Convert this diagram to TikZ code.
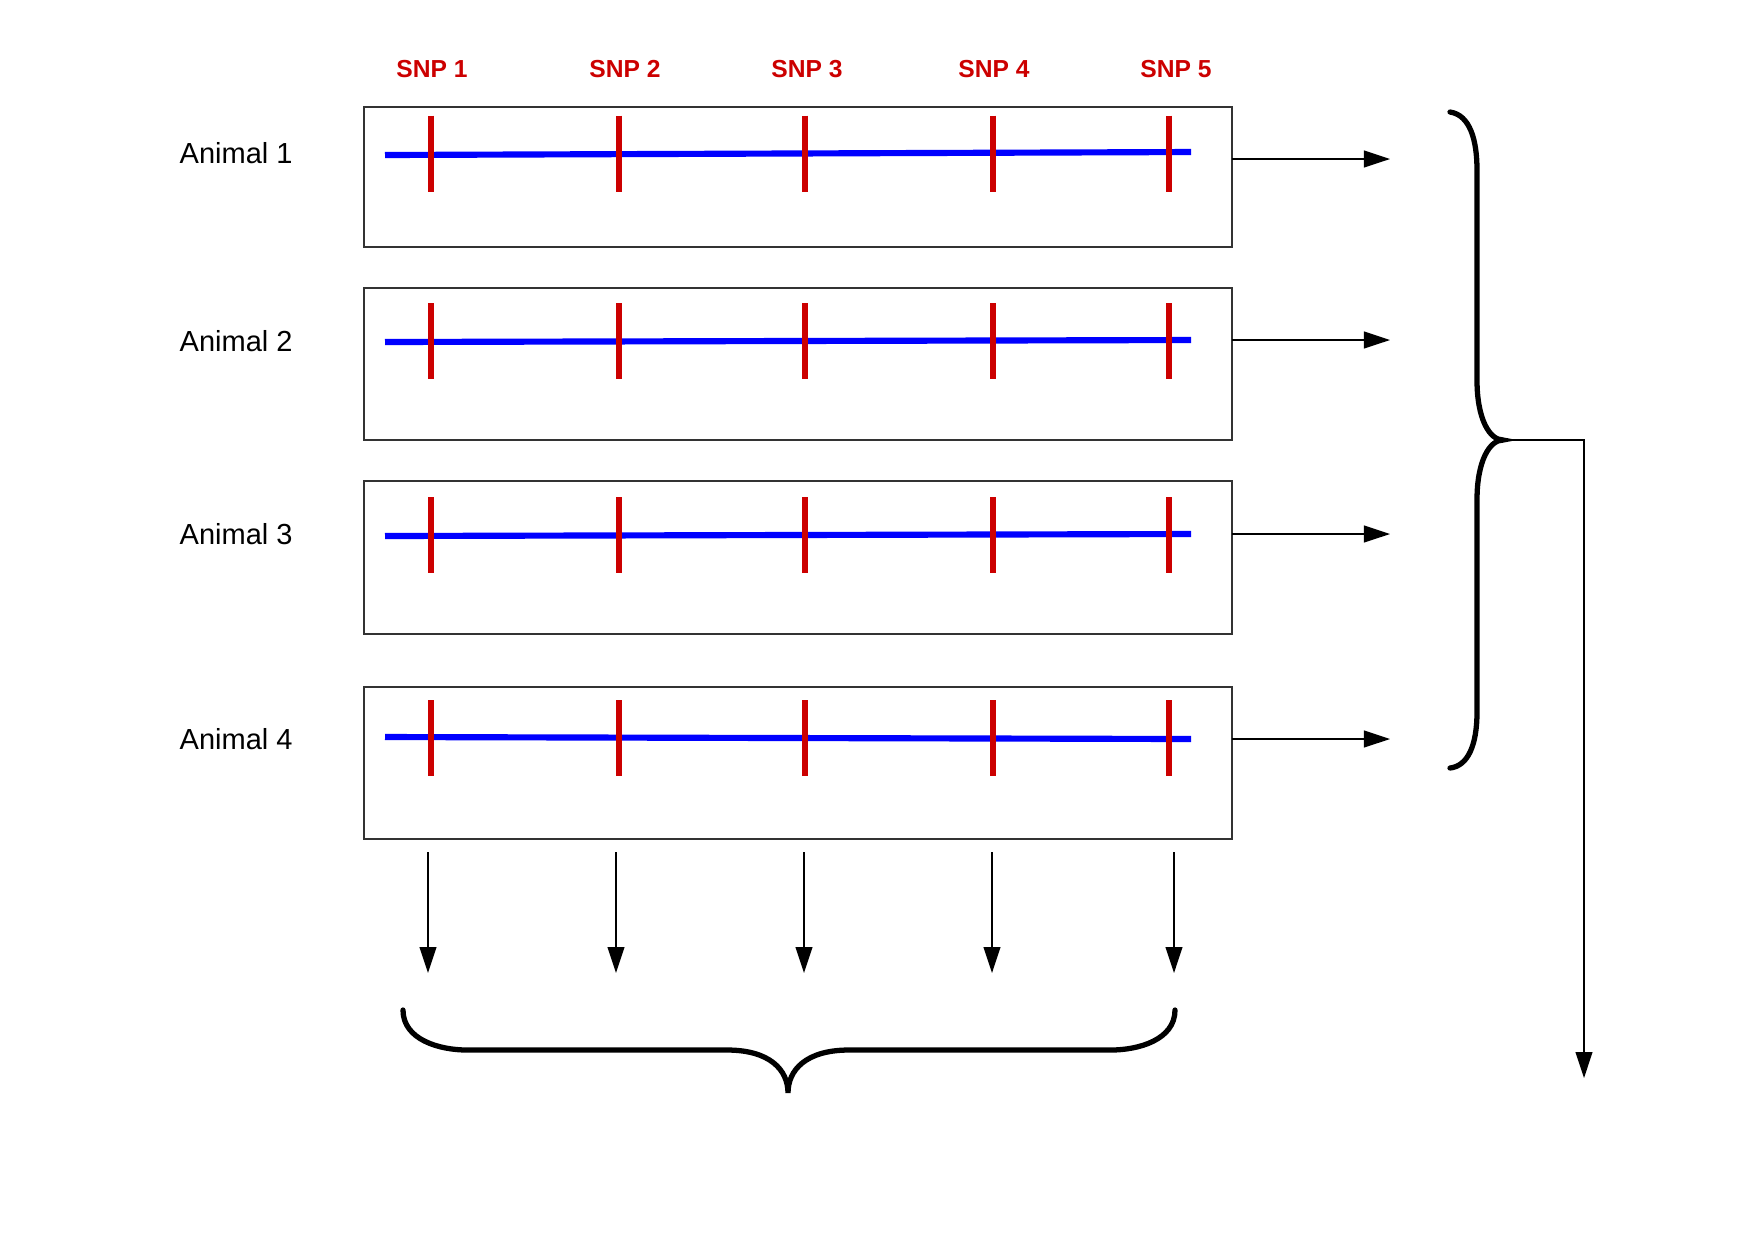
\documentclass[tikz,border=0pt]{standalone}
\usepackage{fontspec}
\setmainfont{Liberation Sans}
\usetikzlibrary{arrows.meta}
\definecolor{snpred}{RGB}{204,0,0}
\definecolor{chromblue}{RGB}{0,0,255}
\tikzset{
  genobox/.style={draw=black!80, line width=0.45pt, inner sep=0pt, outer sep=0pt, minimum width=8.68cm},
  chrom/.style={chromblue, line width=1.75pt},
  snptick/.style={snpred, line width=1.6pt},
  snplabel/.style={text=snpred, font=\fontsize{7}{8}\selectfont\bfseries, inner sep=0pt},
  animallabel/.style={font=\fontsize{8.25}{10}\selectfont, inner sep=0pt, anchor=west},
  flow/.style={black, line width=0.4pt, -{Triangle[length=7.4pt, width=4.8pt]}},
  curly/.style={black, line width=1.5pt, line cap=round}
}
\begin{document}
\begin{tikzpicture}[x=0.01cm, y=-0.01cm]
  \useasboundingbox (0,0) rectangle (1742,1232);

  % SNP headers
  \foreach \j/\x in {1/432, 2/625, 3/807, 4/994, 5/1176}
    \node[snplabel] (snp\j) at (\x,69) {SNP \j};

  % one box per animal
  \foreach \i/\top/\bot/\yl/\yr/\ay/\ty in {1/107/247/155/152/159/153, 2/288/440/342/340/340/341,
                                          3/481/634/536/534/534/534, 4/687/839/737/739/739/739} {
    \node[genobox, minimum height={(\bot-\top)*0.01cm}] (box\i) at (798,{(\top+\bot)/2}) {};
    \node[animallabel] (animal\i) at (179,\ty) {Animal \i};
    \draw[chrom] (385,\yl) -- (1191,\yr);
    \foreach \x in {431, 619, 805, 993, 1169}
      \draw[snptick] (\x,{(\yl+\yr)/2-38}) -- (\x,{(\yl+\yr)/2+38});
    \coordinate (in\i) at (1390,\ay);
    \draw[flow] (box\i.east |- in\i) -- (in\i);
  }

  % arrows down to the brace
  \foreach \k/\x in {1/428, 2/616, 3/804, 4/992, 5/1174} {
    \coordinate (top\k) at (\x,852);
    \coordinate (low\k) at (\x,973);
    \draw[flow] (top\k) -- (low\k);
  }

  % bottom brace
  \draw[curly] (403,1010) .. controls (403,1040) and (440,1050) .. (467,1050) -- (727,1050)
    .. controls (770,1050) and (788,1070) .. (788,1093)
    .. controls (788,1070) and (806,1050) .. (849,1050) -- (1111,1050)
    .. controls (1138,1050) and (1175,1040) .. (1175,1010);

  % right brace
  \coordinate (bracetip) at (1503,440);
  \draw[curly] (1450,112) .. controls (1470,115) and (1477,140) .. (1477,170) -- (1477,380)
    .. controls (1477,420) and (1490,440) .. (bracetip)
    .. controls (1490,440) and (1477,460) .. (1477,500) -- (1477,712)
    .. controls (1477,745) and (1468,766) .. (1450,768);

  \coordinate (outend) at (1584,1078);
  \draw[flow] (bracetip) -| (outend);
\end{tikzpicture}
\end{document}
